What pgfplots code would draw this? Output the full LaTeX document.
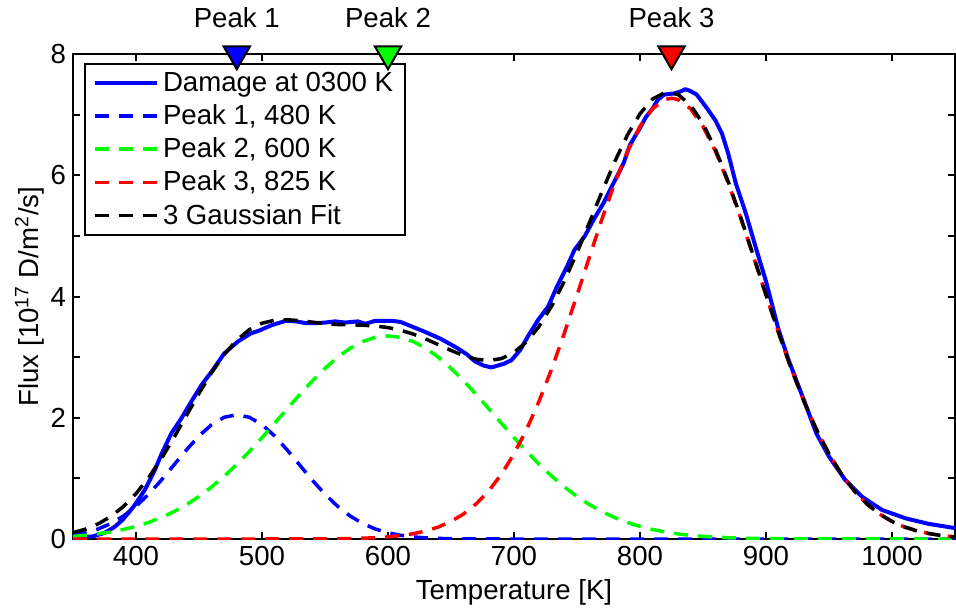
\documentclass[border=0pt]{standalone}
\usepackage{fontspec}
\setmainfont{Liberation Sans}
\usepackage{pgfplots}
\pgfplotsset{compat=1.18}
\begin{document}
\begin{tikzpicture}[font=\fontsize{13.8}{16.5}\selectfont]
\useasboundingbox (-36.5pt,-36.5pt) rectangle (441.5pt,269.5pt);
\pgfplotsset{base/.style={scale only axis, width=441pt, height=242.5pt,
  xmin=350, xmax=1050, ymin=0, ymax=8, at={(0,0)}, anchor=south west}}
\begin{axis}[base,
  axis line style={line width=1pt},
  xtick={400,500,...,1000}, ytick={0,1,...,8}, yticklabels={0,,2,,4,,6,,8},
  tick align=inside, major tick length=3.5pt,
  every tick/.style={black, line width=1pt},
  /pgf/number format/assume math mode=true,
  /pgf/number format/1000 sep={},
  xlabel={Temperature [K]}, ylabel={Flux [10\textsuperscript{17} D/m\textsuperscript{2}/s]},
  xlabel style={at={(axis description cs:0.5,-0.109)}, anchor=center},
  ylabel style={at={(axis description cs:-0.049,0.5)}, anchor=center},
  legend style={at={(axis description cs:0,1)}, anchor=north west, xshift=5.5pt, yshift=-4.5pt,
    draw=black, line width=1pt, cells={anchor=west}, row sep=1.1pt,
    inner xsep=4pt, inner ysep=2pt},
  legend image code/.code={\draw[#1] (0pt,0pt) -- (31pt,0pt);},
  legend cell align=left,
]
\addplot[blue, line width=2pt, line join=round] coordinates {
(350,0.03)(365,0.04)(375,0.10)(383,0.20)(389,0.31)(394,0.43)(399,0.56)(407,0.81)
(415,1.14)(420,1.39)(428,1.74)(436,1.99)(444,2.27)(452,2.54)(460,2.76)(470,3.06)
(481,3.26)(491,3.39)(498,3.44)(508,3.53)(519,3.60)(527,3.59)(535,3.56)(542,3.56)
(550,3.57)(558,3.59)(566,3.57)(576,3.59)(582,3.55)(590,3.60)(603,3.60)(610,3.58)
(616,3.53)(629,3.42)(642,3.30)(655,3.15)(663,3.04)(669,2.93)(676,2.86)(682,2.83)
(692,2.89)(698,2.95)(705,3.12)(711,3.34)(719,3.61)(727,3.83)(734,4.16)(742,4.49)
(748,4.77)(756,4.99)(763,5.26)(771,5.54)(779,5.87)(787,6.20)(792,6.50)(800,6.78)
(805,6.97)(810,7.10)(814,7.24)(819,7.33)(827,7.35)(832,7.38)(836,7.42)(840,7.39)
(845,7.33)(853,7.11)(860,6.90)(865,6.69)(870,6.36)(876,5.87)(884,5.37)(892,4.80)
(900,4.25)(910,3.45)(918,2.95)(929,2.35)(940,1.74)(950,1.36)(963,0.97)(976,0.70)
(992,0.48)(1011,0.34)(1029,0.25)(1050,0.18)};
\addlegendentry{Damage at 0300 K}
\addplot[blue, line width=1.75pt, dash pattern=on 7pt off 5pt] coordinates {
(350,0.061)(360,0.102)(370,0.165)(380,0.255)(390,0.379)(400,0.540)(410,0.739)
(420,0.968)(430,1.218)(440,1.469)(450,1.700)(460,1.886)(470,2.008)(480,2.05)
(490,2.008)(500,1.886)(510,1.700)(520,1.469)(530,1.218)(540,0.968)(550,0.739)
(560,0.540)(570,0.379)(580,0.255)(590,0.165)(600,0.102)(610,0.061)(620,0.035)
(630,0.019)(640,0.010)(650,0.005)(660,0.0025)(700,0)(1050,0)};
\addlegendentry{Peak 1, 480 K}
\addplot[green, line width=1.75pt, dash pattern=on 7pt off 5pt] coordinates {
(350,0.044)(360,0.061)(370,0.085)(380,0.116)(390,0.157)(400,0.208)(410,0.273)
(420,0.353)(430,0.450)(440,0.566)(450,0.702)(460,0.859)(470,1.036)(480,1.232)
(490,1.446)(500,1.673)(510,1.909)(520,2.148)(530,2.384)(540,2.609)(550,2.816)
(560,2.998)(570,3.147)(580,3.258)(590,3.327)(600,3.35)(610,3.327)(620,3.258)
(630,3.147)(640,2.998)(650,2.816)(660,2.609)(670,2.384)(680,2.148)(690,1.909)
(700,1.673)(710,1.446)(720,1.232)(730,1.036)(740,0.859)(750,0.702)(760,0.566)
(770,0.450)(780,0.353)(790,0.273)(800,0.208)(810,0.157)(820,0.116)(830,0.085)
(840,0.061)(850,0.044)(860,0.031)(870,0.021)(880,0.0145)(890,0.0097)(900,0.0065)
(950,0.0007)(1050,0)};
\addlegendentry{Peak 2, 600 K}
\addplot[red, line width=1.75pt, dash pattern=on 7pt off 5pt] coordinates {
(350,0)(500,0)(550,0.003)(560,0.004)(570,0.008)(580,0.013)(590,0.022)(600,0.035)
(610,0.056)(620,0.087)(630,0.133)(640,0.198)(650,0.290)(660,0.413)(670,0.580)
(680,0.795)(690,1.067)(700,1.404)(710,1.807)(720,2.278)(730,2.811)(740,3.398)
(750,4.022)(760,4.660)(770,5.288)(780,5.874)(790,6.390)(800,6.807)(810,7.100)
(820,7.251)(825,7.27)(830,7.251)(840,7.100)(850,6.807)(860,6.390)(870,5.874)
(880,5.288)(890,4.660)(900,4.022)(910,3.398)(920,2.811)(930,2.278)(940,1.807)
(950,1.404)(960,1.067)(970,0.795)(980,0.580)(990,0.413)(1000,0.290)(1010,0.198)
(1020,0.133)(1030,0.087)(1040,0.056)(1050,0.035)};
\addlegendentry{Peak 3, 825 K}
\addplot[black, line width=1.75pt, dash pattern=on 7pt off 5pt] coordinates {
(350,0.105)(360,0.163)(370,0.250)(380,0.371)(390,0.536)(400,0.748)(410,1.012)
(420,1.321)(430,1.668)(440,2.035)(450,2.402)(460,2.745)(470,3.044)(480,3.282)
(490,3.454)(500,3.559)(510,3.609)(520,3.617)(530,3.602)(540,3.577)(550,3.555)
(560,3.538)(570,3.534)(580,3.526)(590,3.514)(600,3.487)(610,3.444)(620,3.380)
(630,3.299)(640,3.206)(650,3.111)(660,3.025)(670,2.965)(680,2.943)(690,2.976)
(700,3.077)(710,3.253)(720,3.510)(730,3.847)(740,4.257)(750,4.724)(760,5.226)
(770,5.738)(780,6.227)(790,6.663)(800,7.015)(810,7.257)(820,7.367)(830,7.336)
(840,7.161)(850,6.851)(860,6.421)(870,5.895)(880,5.303)(890,4.670)(900,4.029)
(910,3.402)(920,2.813)(930,2.278)(940,1.807)(950,1.404)(960,1.067)(970,0.795)
(980,0.580)(990,0.413)(1000,0.290)(1010,0.198)(1020,0.133)(1030,0.087)
(1040,0.056)(1050,0.035)};
\addlegendentry{3 Gaussian Fit}
\end{axis}
\begin{axis}[base, hide axis, clip=false]
\addplot[only marks, mark=triangle*, mark size=7.6pt,
  mark options={rotate=180, fill=blue, draw=black, line width=1pt},
  nodes near coords={Peak 1},
  every node near coord/.append style={anchor=base, yshift=13.5pt, text=black}]
  coordinates {(480,8)};
\addplot[only marks, mark=triangle*, mark size=7.6pt,
  mark options={rotate=180, fill=green, draw=black, line width=1pt},
  nodes near coords={Peak 2},
  every node near coord/.append style={anchor=base, yshift=13.5pt, text=black}]
  coordinates {(600,8)};
\addplot[only marks, mark=triangle*, mark size=7.6pt,
  mark options={rotate=180, fill=red, draw=black, line width=1pt},
  nodes near coords={Peak 3},
  every node near coord/.append style={anchor=base, yshift=13.5pt, text=black}]
  coordinates {(825,8)};
\end{axis}
\end{tikzpicture}
\end{document}
